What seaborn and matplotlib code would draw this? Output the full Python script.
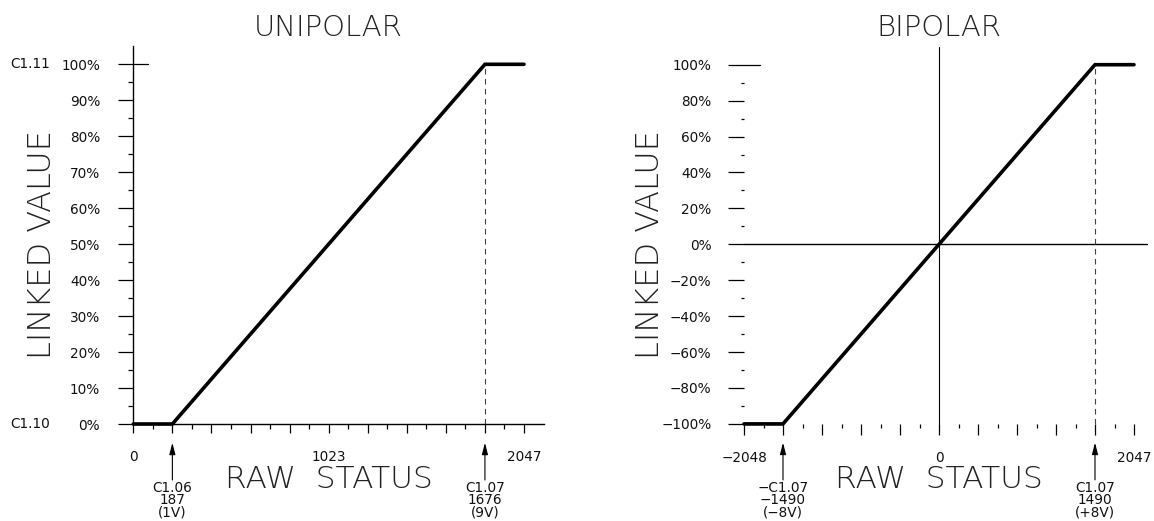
import numpy as np
import pandas as pd
import matplotlib
matplotlib.use("Agg")
import matplotlib.pyplot as plt
import seaborn as sns
from matplotlib.ticker import FixedLocator, FixedFormatter

# ---------------- data ----------------
unipolar_volts = [0, 1, 9, 10]
unipolar_pct = [0, 0, 100, 100]
bipolar_volts = [-10, -8, 8, 10]
bipolar_pct = [-100, -100, 100, 100]

uni_xtick_pos = [0, 5, 10]
uni_xtick_labels = ["0", "1023", "2047"]
bi_xtick_pos = [-10, 0, 10]
bi_xtick_labels = ["\u22122048", "0", "2047"]

uni_ytick_pos = list(range(0, 101, 10))
uni_ytick_labels = [f"{v}%" for v in uni_ytick_pos]
bi_ytick_pos = list(range(-100, 101, 20))
bi_ytick_labels = [f"{v}%".replace("-", "\u2212") for v in bi_ytick_pos]

uni_markers = [1, 9]
uni_marker_labels = ["C1.06\n187\n(1V)", "C1.07\n1676\n(9V)"]
bi_markers = [-8, 8]
bi_marker_labels = ["\u2212C1.07\n\u22121490\n(\u22128V)", "C1.07\n1490\n(+8V)"]

uni_param_levels = [100, 0]
uni_param_labels = ["C1.11", "C1.10"]

# ---------------- style ----------------
sns.set_theme(style="white")
plt.rcParams["font.family"] = ["DejaVu Sans"]
plt.rcParams["axes.unicode_minus"] = True

W, H = 1154, 521
fig = plt.figure(figsize=(W / 100, H / 100), dpi=100)
fig.patch.set_facecolor("white")


def add_axes_px(x0_px, x_per, xlim, y0_px, y_per, ylim):
    left = x0_px + xlim[0] * x_per
    right = x0_px + xlim[1] * x_per
    top = y0_px - ylim[1] * y_per
    bottom = y0_px - ylim[0] * y_per
    ax = fig.add_axes([left / W, (H - bottom) / H, (right - left) / W, (bottom - top) / H])
    ax.set_xlim(xlim)
    ax.set_ylim(ylim)
    ax.set_facecolor("none")
    return ax


TXT = "#111111"
TS = 9.8
BIG = dict(family="DejaVu Sans", fontweight="light", color="#222222")
MARK_LS = 0.8

# ================= UNIPOLAR =================
ux_per = 39.07
uy_per = 3.597
ax1 = add_axes_px(133.3, ux_per, (-0.5, 10.6), 424.0, uy_per, (-2, 106))

df_u = pd.DataFrame({"volts": unipolar_volts, "pct": unipolar_pct})
sns.lineplot(data=df_u, x="volts", y="pct", ax=ax1, color="black", linewidth=2.6,
             solid_joinstyle="miter", clip_on=False, zorder=5)

for s in ["top", "right"]:
    ax1.spines[s].set_visible(False)
ax1.spines["left"].set_position(("data", 0))
ax1.spines["bottom"].set_position(("data", 0))
ax1.spines["left"].set_bounds(0, 105)
ax1.spines["bottom"].set_bounds(0, 10.5)
for s in ["left", "bottom"]:
    ax1.spines[s].set_color("black")
    ax1.spines[s].set_linewidth(1.0)

ax1.xaxis.set_major_locator(FixedLocator(np.arange(0, 10.01, 1)))
ax1.xaxis.set_minor_locator(FixedLocator(np.arange(0.5, 10, 1)))
xl = ["" for _ in np.arange(0, 10.01, 1)]
for p, l in zip(uni_xtick_pos, uni_xtick_labels):
    xl[int(p)] = l
ax1.xaxis.set_major_formatter(FixedFormatter(xl))
ax1.yaxis.set_major_locator(FixedLocator(uni_ytick_pos))
ax1.yaxis.set_minor_locator(FixedLocator(np.arange(5, 100, 10)))
ax1.yaxis.set_major_formatter(FixedFormatter(uni_ytick_labels))
ax1.tick_params(axis="x", which="major", direction="out", length=6.5, width=0.9,
                pad=12.0, labelsize=TS, labelcolor=TXT, color="black", bottom=True)
ax1.tick_params(axis="x", which="minor", direction="out", length=3.6, width=0.9,
                color="black", bottom=True)
ax1.tick_params(axis="y", which="major", direction="out", length=10.8, width=0.9,
                pad=13.0, labelsize=TS, labelcolor=TXT, color="black", left=True)
ax1.tick_params(axis="y", which="minor", direction="out", length=3.6, width=0.9,
                color="black", left=True)
ax1.set_xlabel("")
ax1.set_ylabel("")
ax1.plot([0, 15 / ux_per], [100, 100], color="black", lw=0.9, clip_on=False)

ax1.plot([unipolar_volts[2]] * 2, [unipolar_pct[1], unipolar_pct[2]], color="#444444",
         lw=0.8, dashes=(5, 4), clip_on=False)

for lev, lab in zip(uni_param_levels, uni_param_labels):
    ax1.annotate(lab, xy=(0, lev), xycoords="data", xytext=(-83, 0),
                 textcoords="offset pixels", ha="right", va="center",
                 fontsize=TS, color=TXT)

for xv, lab in zip(uni_markers, uni_marker_labels):
    ax1.annotate("", xy=(xv, 0), xycoords="data", xytext=(0, -56), textcoords="offset pixels",
                 arrowprops=dict(arrowstyle="-|>,head_length=0.7,head_width=0.18",
                                 color="black", lw=0.8, shrinkA=0, shrinkB=13.5,
                                 mutation_scale=10))
    ax1.annotate(lab, xy=(xv, 0), xycoords="data", xytext=(0, -57.5), textcoords="offset pixels",
                 ha="center", va="top", fontsize=TS, color=TXT, linespacing=MARK_LS)

ax1.annotate("UNIPOLAR", xy=(5, 1 - 28 / H), xycoords=("data", "figure fraction"),
             ha="center", va="center", fontsize=21, **BIG)
ax1.annotate("RAW  STATUS", xy=(5, 1 - 479 / H), xycoords=("data", "figure fraction"),
             ha="center", va="center", fontsize=22.5, **BIG)
ax1.annotate("LINKED VALUE", xy=(42 / W, 50), xycoords=("figure fraction", "data"),
             ha="center", va="center", rotation=90, fontsize=23, **BIG)

# ================= BIPOLAR =================
bx_per = 19.5
by_per = 1.796
ax2 = add_axes_px(939.0, bx_per, (-10.5, 10.8), 244.3, by_per, (-103, 111))

df_b = pd.DataFrame({"volts": bipolar_volts, "pct": bipolar_pct})
sns.lineplot(data=df_b, x="volts", y="pct", ax=ax2, color="black", linewidth=2.6,
             solid_joinstyle="miter", clip_on=False, zorder=5)

for s in ["top", "right", "left", "bottom"]:
    ax2.spines[s].set_visible(False)
ax2.spines["left"].set_position(("data", bipolar_volts[0]))
ax2.spines["bottom"].set_position(("data", bipolar_pct[0]))

ax2.xaxis.set_major_locator(FixedLocator(np.arange(-10, 10.01, 2)))
ax2.xaxis.set_minor_locator(FixedLocator(np.arange(-9, 10, 2)))
bxl = ["" for _ in np.arange(-10, 10.01, 2)]
for p, l in zip(bi_xtick_pos, bi_xtick_labels):
    bxl[int((p + 10) / 2)] = l
ax2.xaxis.set_major_formatter(FixedFormatter(bxl))
ax2.yaxis.set_major_locator(FixedLocator(bi_ytick_pos))
ax2.yaxis.set_minor_locator(FixedLocator(np.arange(-90, 100, 20)))
ax2.yaxis.set_major_formatter(FixedFormatter(bi_ytick_labels))
ax2.tick_params(axis="x", which="major", direction="out", length=8, width=0.9,
                pad=11.5, labelsize=TS, labelcolor=TXT, color="black", bottom=True)
ax2.tick_params(axis="x", which="minor", direction="out", length=3.2, width=0.9,
                color="black", bottom=True)
ax2.tick_params(axis="y", which="major", direction="out", length=11.5, width=0.9,
                pad=12.0, labelsize=TS, labelcolor=TXT, color="black", left=True)
ax2.tick_params(axis="y", which="minor", direction="out", length=2.4, width=0.9,
                color="black", left=True)
ax2.set_xlabel("")
ax2.set_ylabel("")

ax2.plot([bipolar_volts[0], 10.67], [0, 0], color="black", lw=1.0, clip_on=False)
ax2.plot([0, 0], [bipolar_pct[0], 110], color="black", lw=0.8, clip_on=False)
ax2.plot([bipolar_volts[0], bipolar_volts[0] + 16 / bx_per], [100, 100], color="black",
         lw=0.9, clip_on=False)
ax2.plot([bipolar_volts[0], bipolar_volts[1]], [-100, -100], color="black", lw=1.0, clip_on=False)

ax2.plot([bipolar_volts[2]] * 2, [bipolar_pct[0], bipolar_pct[2]], color="#444444",
         lw=0.8, dashes=(5, 4), clip_on=False)

for xv, lab in zip(bi_markers, bi_marker_labels):
    ax2.annotate("", xy=(xv, -100), xycoords="data", xytext=(0, -56), textcoords="offset pixels",
                 arrowprops=dict(arrowstyle="-|>,head_length=0.7,head_width=0.18",
                                 color="black", lw=0.8, shrinkA=0, shrinkB=13.5,
                                 mutation_scale=10))
    ax2.annotate(lab, xy=(xv, -100), xycoords="data", xytext=(0, -57.5), textcoords="offset pixels",
                 ha="center", va="top", fontsize=TS, color=TXT, linespacing=MARK_LS)

ax2.annotate("BIPOLAR", xy=(0, 1 - 28 / H), xycoords=("data", "figure fraction"),
             ha="center", va="center", fontsize=21, **BIG)
ax2.annotate("RAW  STATUS", xy=(0, 1 - 479 / H), xycoords=("data", "figure fraction"),
             ha="center", va="center", fontsize=22.5, **BIG)
ax2.annotate("LINKED VALUE", xy=(650 / W, 0), xycoords=("figure fraction", "data"),
             ha="center", va="center", rotation=90, fontsize=23, **BIG)

fig.savefig("out.png", dpi=100, facecolor="white")
